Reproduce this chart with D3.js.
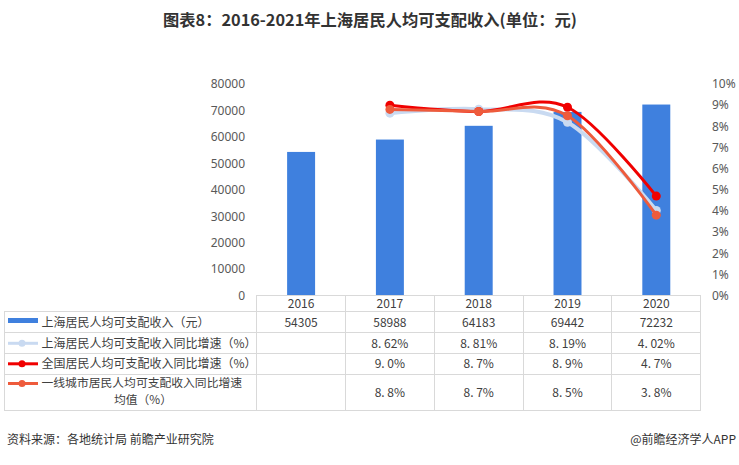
<!DOCTYPE html>
<html><head><meta charset="utf-8">
<script src="https://cdn.jsdelivr.net/npm/d3@7"></script>
<style>
body{margin:0;background:#fff;}
svg{display:block;font-family:"Noto Sans CJK SC","Noto Sans",sans-serif;}
</style></head>
<body>
<svg id="c" width="739" height="465"></svg>
<script>
const years = ["2016","2017","2018","2019","2020"];
const income = [54305,58988,64183,69442,72232];
const shGrowth = [null,8.62,8.81,8.19,4.02];
const natGrowth = [null,9.0,8.7,8.9,4.7];
const tierGrowth = [null,8.8,8.7,8.5,3.8];
const leftTicks = [0,10000,20000,30000,40000,50000,60000,70000,80000];
const rightTicks = [0,1,2,3,4,5,6,7,8,9,10];
const seriesNames = ["上海居民人均可支配收入（元）","上海居民人均可支配收入同比增速（%）","全国居民人均可支配收入同比增速（%）","一线城市居民人均可支配收入同比增速均值（%）"];
const title = "图表8：2016-2021年上海居民人均可支配收入(单位：元)";
const source = "资料来源：各地统计局 前瞻产业研究院";
const credit = "@前瞻经济学人APP";

const svg = d3.select("#c");
const colBar="#3F80DE", colSh="#C9DAF1", colNat="#F00000", colTier="#EE5B3C";
const grid="#D9D9D9", txt="#404040";

const x = d3.scaleBand().domain(years).range([256.7,700.7]).padding(0);
const yL = d3.scaleLinear().domain([0,80000]).range([295.5,84]);
const yR = d3.scaleLinear().domain([0,10]).range([295.5,84]);

// title
svg.append("text").attr("x",370).attr("y",26).attr("text-anchor","middle")
  .attr("font-size",16).attr("font-weight","bold").attr("fill","#333")
  .attr("textLength",414).attr("lengthAdjust","spacingAndGlyphs").text(title);

// axes
const gl = svg.append("g").attr("transform","translate(248,0)")
  .call(d3.axisLeft(yL).tickValues(leftTicks).tickSize(0).tickPadding(3).tickFormat(d3.format("d")));
gl.select(".domain").remove();
gl.selectAll("text").attr("font-size",12).attr("fill","#595959").attr("font-family","Noto Sans, sans-serif");
const gr = svg.append("g").attr("transform","translate(712,0)")
  .call(d3.axisRight(yR).tickValues(rightTicks).tickSize(0).tickPadding(0).tickFormat(d=>d+"%"));
gr.select(".domain").remove();
gr.selectAll("text").attr("font-size",12).attr("fill","#595959").attr("font-family","Noto Sans, sans-serif");

// bars
const bw = x.bandwidth()*0.315;
svg.append("g").selectAll("rect").data(years).join("rect")
  .attr("x",(d)=>x(d)+x.bandwidth()/2-bw/2).attr("width",bw)
  .attr("y",(d,i)=>yL(income[i])).attr("height",(d,i)=>yL(0)-yL(income[i]))
  .attr("fill",colBar);

// lines
function drawLine(vals,color,w,r){
  const pts = years.map((d,i)=>[x(d)+x.bandwidth()/2, vals[i]]).filter(p=>p[1]!=null);
  const line = d3.line().x(p=>p[0]).y(p=>yR(p[1])).curve(d3.curveCardinal.tension(0));
  svg.append("path").attr("d",line(pts)).attr("fill","none").attr("stroke",color).attr("stroke-width",w);
  svg.append("g").selectAll("circle").data(pts).join("circle")
    .attr("cx",p=>p[0]).attr("cy",p=>yR(p[1])).attr("r",r).attr("fill",color);
}
drawLine(shGrowth,colSh,4,4.5);
drawLine(natGrowth,colNat,3,4.5);
drawLine(tierGrowth,colTier,3,4.5);

// table
const rowY = [295,311.7,332.3,353.3,374.3,410];
const tg = svg.append("g").attr("stroke",grid).attr("stroke-width",1).attr("shape-rendering","crispEdges");
tg.append("line").attr("x1",256.7).attr("x2",700.7).attr("y1",rowY[0]).attr("y2",rowY[0]);
rowY.slice(1).forEach(yy=>tg.append("line").attr("x1",4).attr("x2",700.7).attr("y1",yy).attr("y2",yy));
tg.append("line").attr("x1",4).attr("x2",4).attr("y1",rowY[1]).attr("y2",rowY[5]);
years.forEach(d=>tg.append("line").attr("x1",x(d)).attr("x2",x(d)).attr("y1",rowY[0]).attr("y2",rowY[5]));
tg.append("line").attr("x1",700.7).attr("x2",700.7).attr("y1",rowY[0]).attr("y2",rowY[5]);

const cell = (xx,yy,s,anchor,fs)=>svg.append("text").attr("x",xx).attr("y",yy).attr("dy","0.35em")
  .attr("text-anchor",anchor||"middle").attr("font-size",fs||12).attr("fill",txt).text(s);
const pct = (v,dp)=> v==null? "" : d3.format("."+dp+"f")(v).replace(".",". ")+"%";
years.forEach((d,i)=>{
  const cx = x(d)+x.bandwidth()/2;
  cell(cx,303.5,d);
  cell(cx,322.3,String(income[i]));
  cell(cx,343.3,pct(shGrowth[i],2));
  cell(cx,363.8,pct(natGrowth[i],1));
  cell(cx,392.5,pct(tierGrowth[i],1));
});

// legend column
svg.append("rect").attr("x",8).attr("y",318).attr("width",30).attr("height",5).attr("fill",colBar);
[[343.3,colSh],[363.8,colNat],[383.5,colTier]].forEach(([yy,c])=>{
  svg.append("line").attr("x1",8).attr("x2",38).attr("y1",yy).attr("y2",yy).attr("stroke",c).attr("stroke-width",3);
  svg.append("circle").attr("cx",22).attr("cy",yy).attr("r",3.5).attr("fill",c);
});
cell(41.5,322.3,seriesNames[0],"start");
cell(41.5,343.3,seriesNames[1],"start");
cell(41.5,363.8,seriesNames[2],"start");
cell(41.5,383,seriesNames[3].slice(0,17),"start",11.8);
cell(143,399.5,seriesNames[3].slice(17),"middle",11.8);

// footer
svg.append("text").attr("x",7).attr("y",444).attr("font-size",12).attr("fill","#333").text(source);
svg.append("text").attr("x",736).attr("y",444).attr("text-anchor","end").attr("font-size",12).attr("fill","#333").text(credit);
</script>
</body></html>
